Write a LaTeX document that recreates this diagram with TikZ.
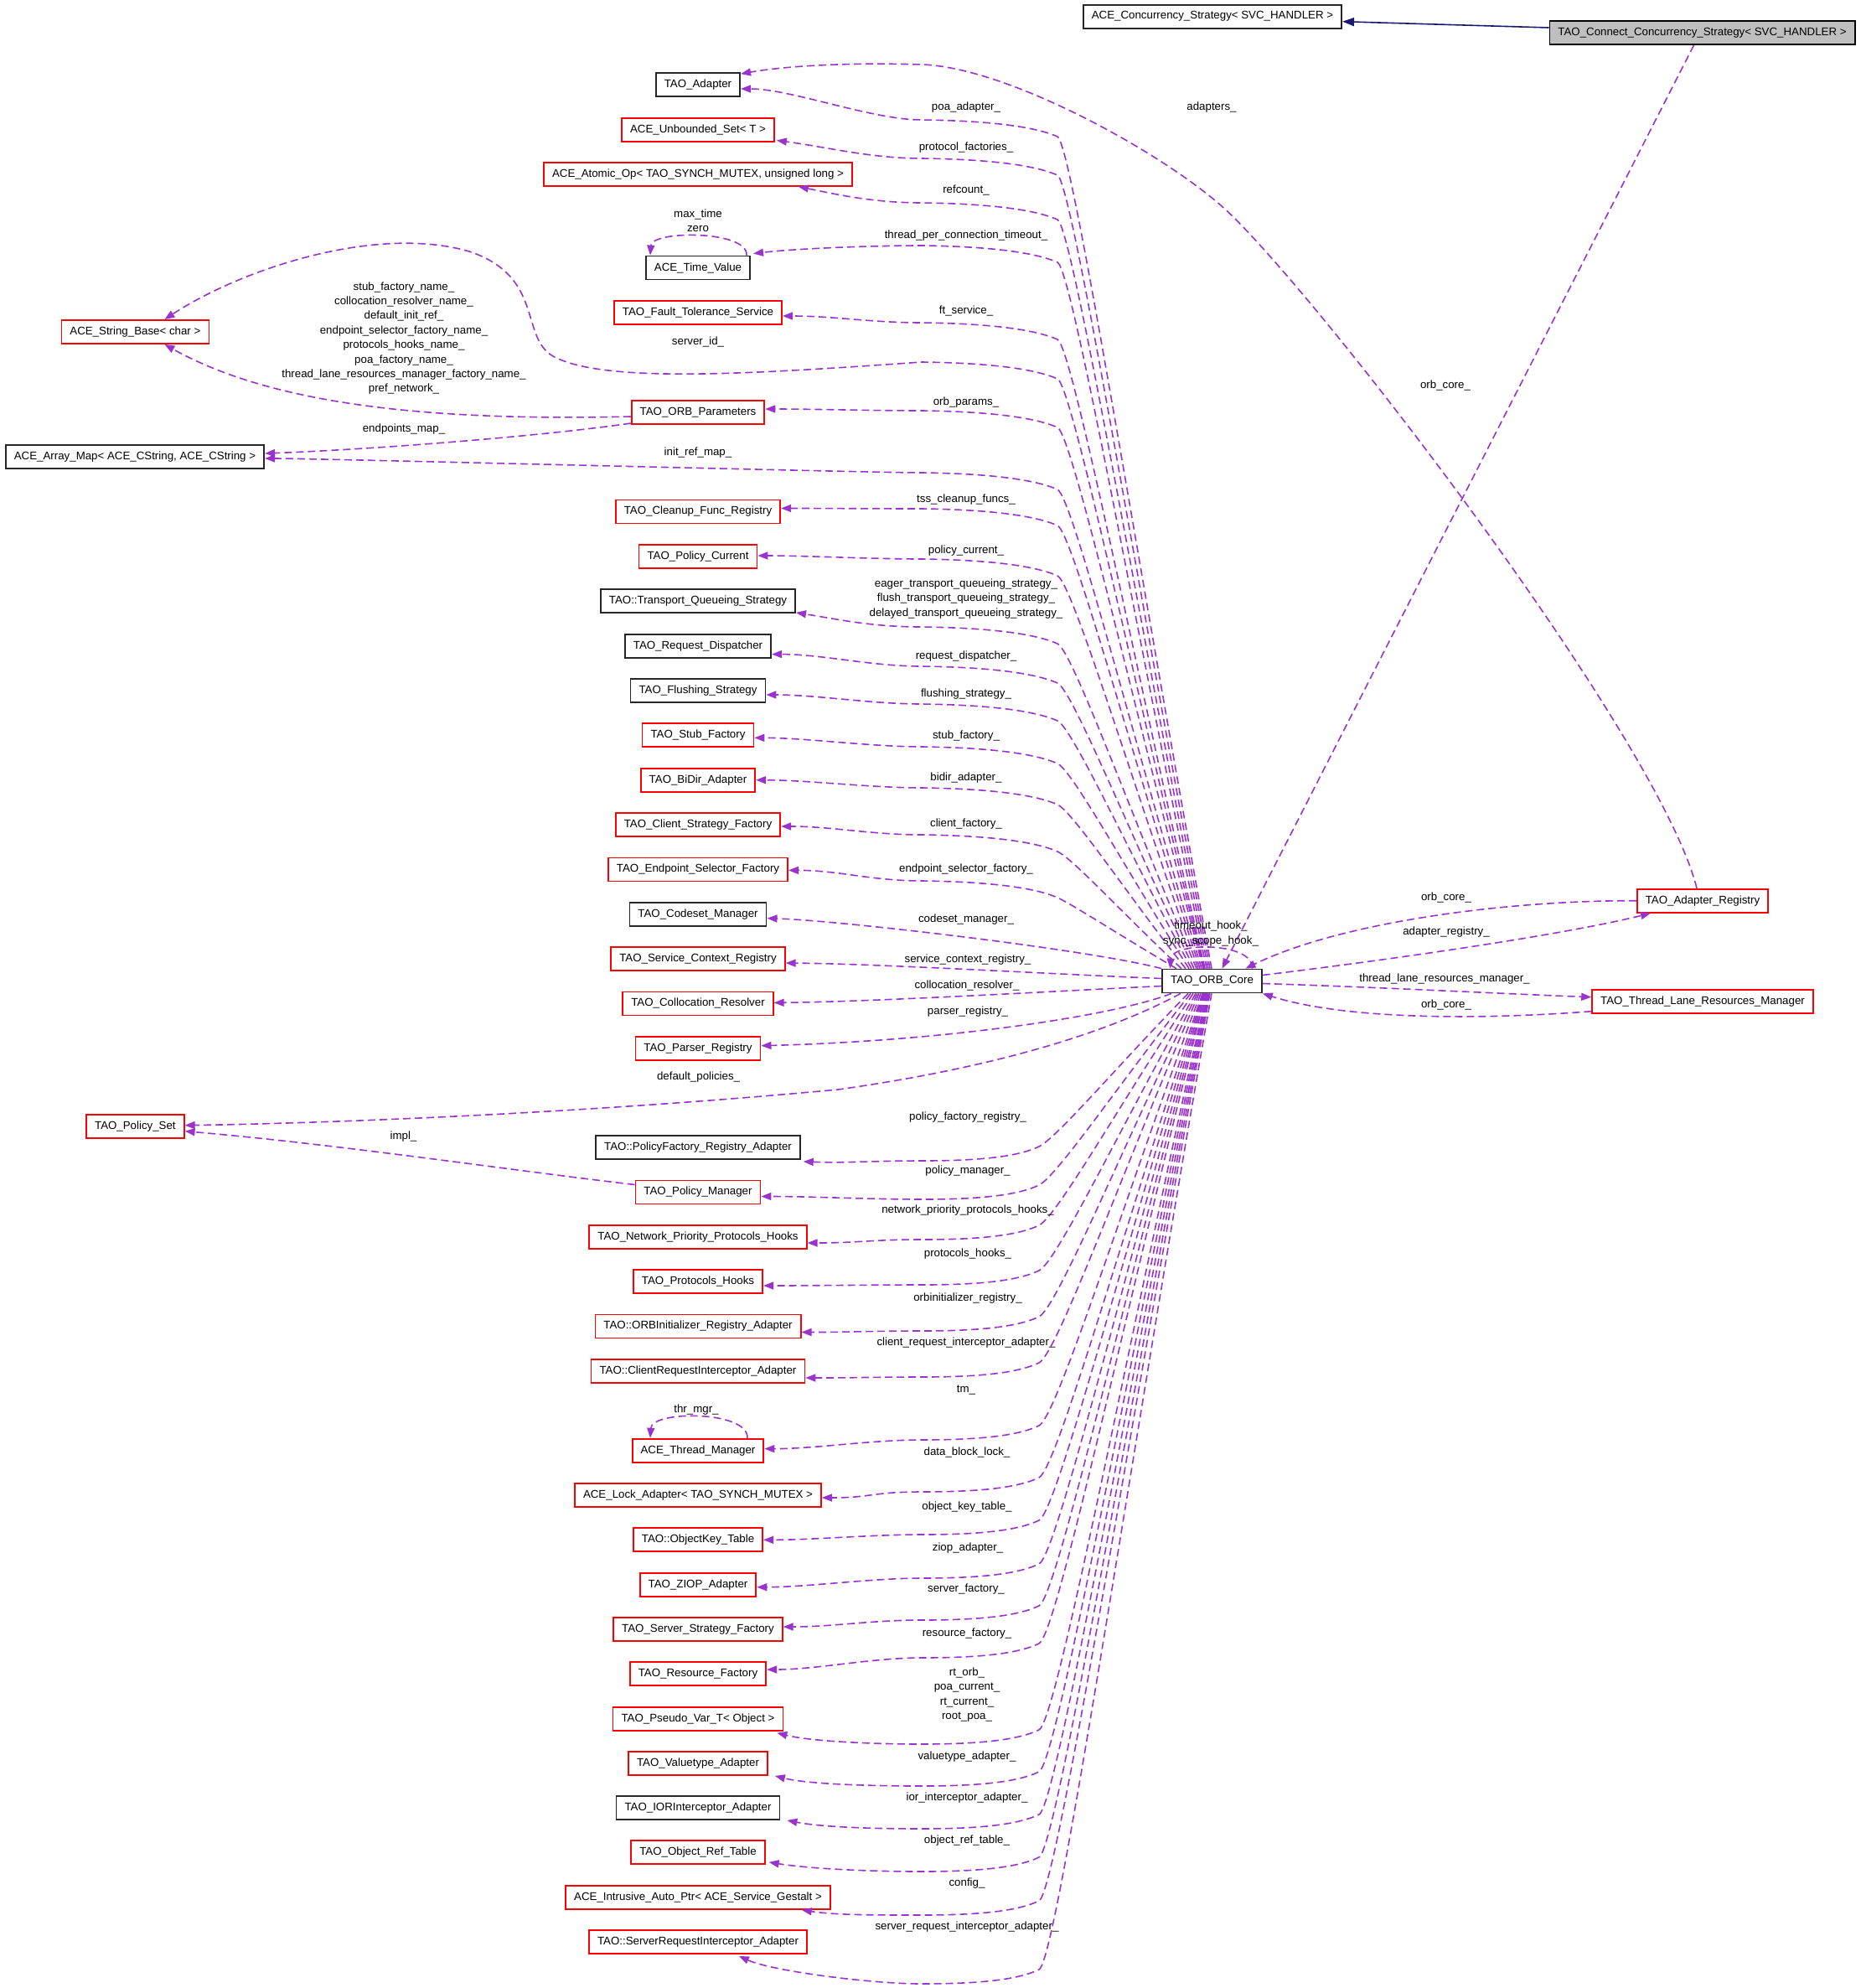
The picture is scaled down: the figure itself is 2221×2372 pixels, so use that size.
\documentclass[tikz,border=0pt]{standalone}
\usepackage{fontspec}
\setmainfont{Liberation Sans}
\usetikzlibrary{arrows.meta}
\definecolor{depc}{HTML}{9A32CD}
\definecolor{navyc}{HTML}{191970}
\definecolor{grayc}{HTML}{BFBFBF}
\newcommand\fs{\fontsize{6.65pt}{8.7pt}\selectfont}
\tikzset{
  cbox/.style={draw, line width=0.9pt, inner xsep=5pt, inner ysep=0pt, minimum height=14pt, font=\fs, fill=white},
  rbox/.style={cbox, draw=red},
  kbox/.style={cbox, draw=black!85},
  lbl/.style={font=\fs, inner sep=0pt, align=center},
  dep/.style={draw=depc, line width=0.8pt, dash pattern=on 4.5pt off 2.5pt, -{Triangle[length=6pt,width=4.5pt]}},
  inh/.style={draw=navyc, line width=0.8pt, -{Triangle[length=7pt,width=5pt]}},
}
% upper edge: #1 node, #2 anchor, #3 sx, #4 sy, #5 cdx, #6 cdy, #7 my, #8 cx
\newcommand\upedge[8]{%
  \pgfmathsetmacro\eBy{#7+20}%
  \pgfmathsetmacro\eCx{#8+0.45*(1262-#8)}%
  \pgfmathsetmacro\eCy{1157+0.45*(\eBy-1157)}%
  \draw[dep] (core.north-|#8,0) .. controls (\eCx,\eCy) and (1280,{#7+28}) .. (1262,\eBy) .. controls (1235,{#7+8}) and (1180,{#7+1}) .. (1100,#7) .. controls (1040,#7) and ([shift={({#3+#5},{#4+#6})}]#1.#2) .. ([shift={(#3,#4)}]#1.#2);}
\newcommand\lowedge[8]{%
  \pgfmathsetmacro\eBy{#7-17}%
  \pgfmathsetmacro\eCx{#8+0.45*(1240-#8)}%
  \pgfmathsetmacro\eCy{1184+0.45*(\eBy-1184)}%
  \draw[dep] (core.south-|#8,0) .. controls (\eCx,\eCy) and (1262,{#7-28}) .. (1240,\eBy) .. controls (1215,{#7-5}) and (1170,#7) .. (1100,#7) .. controls (1040,#7) and ([shift={({#3+#5},{#4+#6})}]#1.#2) .. ([shift={(#3,#4)}]#1.#2);}
\begin{document}
\begin{tikzpicture}[x=0.5pt,y=-0.5pt]
\useasboundingbox (0,0) rectangle (2221,2372);
% top and right nodes
\node[kbox] (ccs) at (1447,19.7) {ACE\_Concurrency\_Strategy< SVC\_HANDLER >};
\node[cbox, fill=grayc] (tccs) at (2031.5,39) {TAO\_Connect\_Concurrency\_Strategy< SVC\_HANDLER >};
\node[kbox] (core) at (1446.5,1170.5) {TAO\_ORB\_Core};
\node[rbox] (ar) at (2032,1074.7) {TAO\_Adapter\_Registry};
\node[rbox] (tl) at (2032,1194.7) {TAO\_Thread\_Lane\_Resources\_Manager};
% left nodes
\node[rbox] (sb) at (161.4,396) {ACE\_String\_Base< char >};
\node[kbox] (am) at (161,545) {ACE\_Array\_Map< ACE\_CString, ACE\_CString >};
\node[rbox] (ps) at (161.4,1343.7) {TAO\_Policy\_Set};
\node[kbox] (ad) at (833,101) {TAO\_Adapter};
\node[rbox] (us) at (833,154.6) {ACE\_Unbounded\_Set< T >};
\node[rbox] (ao) at (833,207.8) {ACE\_Atomic\_Op< TAO\_SYNCH\_MUTEX, unsigned long >};
\node[kbox] (tv) at (833,319.5) {ACE\_Time\_Value};
\node[rbox] (ft) at (833,373) {TAO\_Fault\_Tolerance\_Service};
\node[rbox] (op) at (833,492) {TAO\_ORB\_Parameters};
\node[rbox] (cf) at (833,610.5) {TAO\_Cleanup\_Func\_Registry};
\node[rbox] (pc) at (833,664) {TAO\_Policy\_Current};
\node[kbox] (tq) at (833,717) {TAO::Transport\_Queueing\_Strategy};
\node[kbox] (rd) at (833,770.6) {TAO\_Request\_Dispatcher};
\node[kbox] (fs) at (833,824) {TAO\_Flushing\_Strategy};
\node[rbox] (sf) at (833,877.3) {TAO\_Stub\_Factory};
\node[rbox] (bd) at (833,930.7) {TAO\_BiDir\_Adapter};
\node[rbox] (cs) at (833,984) {TAO\_Client\_Strategy\_Factory};
\node[rbox] (es) at (833,1037.4) {TAO\_Endpoint\_Selector\_Factory};
\node[kbox] (cm) at (833,1090.7) {TAO\_Codeset\_Manager};
\node[rbox] (sc) at (833,1144) {TAO\_Service\_Context\_Registry};
\node[rbox] (cr) at (833,1197.4) {TAO\_Collocation\_Resolver};
\node[rbox] (pr) at (833,1250.7) {TAO\_Parser\_Registry};
\node[kbox] (pf) at (833,1369) {TAO::PolicyFactory\_Registry\_Adapter};
\node[rbox] (pm) at (833,1422.5) {TAO\_Policy\_Manager};
\node[rbox] (np) at (833,1476) {TAO\_Network\_Priority\_Protocols\_Hooks};
\node[rbox] (ph) at (833,1529) {TAO\_Protocols\_Hooks};
\node[rbox] (oi) at (833,1582.5) {TAO::ORBInitializer\_Registry\_Adapter};
\node[rbox] (ci) at (833,1636) {TAO::ClientRequestInterceptor\_Adapter};
\node[rbox] (tm) at (833,1730.6) {ACE\_Thread\_Manager};
\node[rbox] (la) at (833,1784) {ACE\_Lock\_Adapter< TAO\_SYNCH\_MUTEX >};
\node[rbox] (ok) at (833,1837.3) {TAO::ObjectKey\_Table};
\node[rbox] (zi) at (833,1890.7) {TAO\_ZIOP\_Adapter};
\node[rbox] (ss) at (833,1944) {TAO\_Server\_Strategy\_Factory};
\node[rbox] (rf) at (833,1997) {TAO\_Resource\_Factory};
\node[rbox] (pv) at (833,2050.7) {TAO\_Pseudo\_Var\_T< Object >};
\node[rbox] (va) at (833,2104) {TAO\_Valuetype\_Adapter};
\node[kbox] (io) at (833,2157) {TAO\_IORInterceptor\_Adapter};
\node[rbox] (ort) at (833,2210) {TAO\_Object\_Ref\_Table};
\node[rbox] (ia) at (833,2264) {ACE\_Intrusive\_Auto\_Ptr< ACE\_Service\_Gestalt >};
\node[rbox] (si) at (833,2317) {TAO::ServerRequestInterceptor\_Adapter};
% right side edges
\draw[inh] ([shift={(0,-6)}]tccs.west) -- ([shift={(0,6)}]ccs.east);
\draw[dep] ([shift={(-10,0)}]tccs.south) -- ([shift={(12,0)}]core.north);
\draw[dep] ([shift={(-7,0)}]ar.north) .. controls (1980,880) and (1560,335) .. (1457,245) .. controls (1380,178) and (1200,80) .. (1100,77) .. controls (1000,74) and (930,80) .. ([shift={(0,2)}]ad.north east);
\draw[dep] (ar.west) .. controls (1800,1074) and (1600,1100) .. ([shift={(40,0)}]core.north);
\draw[dep] ([shift={(0,-7)}]core.east) .. controls (1700,1140) and (1880,1112) .. ([shift={(-62,0)}]ar.south);
\draw[dep] ([shift={(0,3)}]core.east) .. controls (1650,1178) and (1800,1186) .. ([shift={(0,-5)}]tl.west);
\draw[dep] ([shift={(0,12)}]tl.west) .. controls (1750,1218) and (1600,1215) .. (core.south east);
% self loops
\draw[dep] ([shift={(48,0)}]core.north) .. controls ([shift={(50,-32)}]core.north) and ([shift={(-48,-32)}]core.north) .. ([shift={(-50,0)}]core.north);
\draw[dep] ([shift={(58,0)}]tv.north) .. controls ([shift={(60,-30)}]tv.north) and ([shift={(-55,-30)}]tv.north) .. ([shift={(-57,0)}]tv.north);
\draw[dep] ([shift={(59,0)}]tm.north) .. controls ([shift={(60,-33)}]tm.north) and ([shift={(-55,-33)}]tm.north) .. ([shift={(-57,0)}]tm.north);
% upper edges
\upedge{ad}{east}{0}{5}{60}{0}{143}{1446}
\upedge{us}{south east}{2}{-2}{60}{8}{189}{1444}
\upedge{ao}{south east}{-65}{0}{40}{8}{242}{1442}
\upedge{tv}{north east}{3}{-2}{50}{-6}{293}{1440}
\upedge{ft}{east}{0}{4}{60}{0}{385}{1438}
\upedge{op}{east}{0}{-4}{60}{0}{490}{1436}
\upedge{am}{east}{0}{2}{60}{0}{564}{1434}
\upedge{cf}{east}{0}{-4}{60}{0}{607}{1432}
\upedge{pc}{east}{0}{-1}{60}{0}{667}{1430}
\upedge{tq}{south east}{0}{-1}{50}{8}{748}{1428}
\upedge{rd}{east}{0}{10}{60}{0}{795}{1425}
\upedge{fs}{east}{0}{5}{60}{0}{840}{1422}
\upedge{sf}{east}{0}{3}{60}{0}{891}{1419}
\upedge{bd}{east}{0}{0}{60}{0}{940}{1415}
\upedge{cs}{east}{0}{2}{60}{0}{996}{1410}
\upedge{es}{east}{0}{1}{60}{0}{1051}{1404}
% server_id_
\draw[dep] (core.north-|1437,0) .. controls (1358,840) and (1280,460) .. (1262,452) .. controls (1235,440) and (1180,433) .. (1100,432) .. controls (900,446) and (720,458) .. (660,425) .. controls (620,402) and (650,330) .. (560,300) .. controls (450,268) and (290,320) .. ([shift={(35,0)}]sb.north);
% ORB_Parameters edges
\draw[dep] ([shift={(0,5)}]op.west) .. controls (500,503) and (320,480) .. ([shift={(35,0)}]sb.south);
\draw[dep] ([shift={(0,13)}]op.west) .. controls (650,520) and (450,536) .. ([shift={(0,-4)}]am.east);
% middle edges
\draw[dep] (core.north west) .. controls (1300,1133) and (1000,1098) .. ([shift={(0,5)}]cm.east);
\draw[dep] ([shift={(0,-3)}]core.west) .. controls (1250,1162) and (1050,1150) .. ([shift={(0,5)}]sc.east);
\draw[dep] ([shift={(0,6)}]core.west) .. controls (1250,1183) and (1050,1195) .. ([shift={(0,-1)}]cr.east);
\draw[dep] (core.south-|1398,0) .. controls (1330,1212) and (1130,1242) .. ([shift={(0,-3)}]pr.east);
\draw[dep] (core.south-|1409,0) .. controls (1330,1228) and (1200,1272) .. (1000,1300) .. controls (700,1328) and (400,1340) .. ([shift={(0,-1)}]ps.east);
\draw[dep] ([shift={(0,-9)}]pm.west) .. controls (600,1395) and (400,1365) .. ([shift={(0,6)}]ps.east);
% lower edges
\lowedge{pf}{south east}{3}{2}{50}{2}{1385}{1418}
\lowedge{pm}{east}{0}{5}{60}{0}{1431}{1421}
\lowedge{np}{east}{0}{7}{60}{0}{1479}{1424}
\lowedge{ph}{east}{0}{5}{60}{0}{1533}{1427}
\lowedge{oi}{east}{0}{7}{60}{0}{1588}{1429}
\lowedge{ci}{east}{0}{8}{60}{0}{1643}{1431}
\lowedge{tm}{east}{0}{-2}{60}{0}{1718}{1433}
\lowedge{la}{east}{0}{3}{60}{0}{1780}{1435}
\lowedge{ok}{east}{0}{0}{60}{0}{1831}{1436}
\lowedge{zi}{east}{0}{3}{60}{0}{1883}{1437}
\lowedge{ss}{east}{0}{-3}{60}{0}{1933}{1438}
\lowedge{rf}{east}{0}{-5}{60}{0}{1978}{1439}
\lowedge{pv}{south east}{-8}{2}{40}{10}{2081}{1440}
\lowedge{va}{south east}{8}{0}{40}{10}{2131}{1441}
\lowedge{io}{south east}{8}{0}{40}{8}{2182}{1442}
\lowedge{ort}{south east}{4}{-3}{50}{8}{2233}{1443}
\lowedge{ia}{south east}{-35}{0}{40}{6}{2285}{1444}
\lowedge{si}{south east}{-82}{2}{40}{18}{2367}{1446}
% labels
\node[lbl] (l01) at (1153,128) {poa\_adapter\_};
\node[lbl] (l02) at (1153,176) {protocol\_factories\_};
\node[lbl] (l03) at (1153,227) {refcount\_};
\node[lbl] (l04) at (1153,281) {thread\_per\_connection\_timeout\_};
\node[lbl] (l05) at (833,263.5) {max\_time\\zero};
\node[lbl] (l06) at (1153,371) {ft\_service\_};
\node[lbl] (l07) at (833,408) {server\_id\_};
\node[lbl] (l08) at (482,403.5) {stub\_factory\_name\_\\collocation\_resolver\_name\_\\default\_init\_ref\_\\endpoint\_selector\_factory\_name\_\\protocols\_hooks\_name\_\\poa\_factory\_name\_\\thread\_lane\_resources\_manager\_factory\_name\_\\pref\_network\_};
\node[lbl] (l09) at (482,512) {endpoints\_map\_};
\node[lbl] (l10) at (1153,480) {orb\_params\_};
\node[lbl] (l11) at (833,540) {init\_ref\_map\_};
\node[lbl] (l12) at (1153,596) {tss\_cleanup\_funcs\_};
\node[lbl] (l13) at (1153,657) {policy\_current\_};
\node[lbl] (l14) at (1153,714.5) {eager\_transport\_queueing\_strategy\_\\flush\_transport\_queueing\_strategy\_\\delayed\_transport\_queueing\_strategy\_};
\node[lbl] (l15) at (1153,782.7) {request\_dispatcher\_};
\node[lbl] (l16) at (1153,827.7) {flushing\_strategy\_};
\node[lbl] (l17) at (1153,878.3) {stub\_factory\_};
\node[lbl] (l18) at (1153,927.7) {bidir\_adapter\_};
\node[lbl] (l19) at (1153,983.3) {client\_factory\_};
\node[lbl] (l20) at (1153,1036.7) {endpoint\_selector\_factory\_};
\node[lbl] (l21) at (1153,1097) {codeset\_manager\_};
\node[lbl] (l22) at (1155,1144.7) {service\_context\_registry\_};
\node[lbl] (l23) at (1154,1176) {collocation\_resolver\_};
\node[lbl] (l24) at (1155,1207) {parser\_registry\_};
\node[lbl] (l25) at (833.6,1285) {default\_policies\_};
\node[lbl] (l26) at (1155,1333) {policy\_factory\_registry\_};
\node[lbl] (l27) at (1155,1397) {policy\_manager\_};
\node[lbl] (l28) at (1155,1444) {network\_priority\_protocols\_hooks\_};
\node[lbl] (l29) at (1155,1496) {protocols\_hooks\_};
\node[lbl] (l30) at (1155,1549) {orbinitializer\_registry\_};
\node[lbl] (l31) at (1153,1602) {client\_request\_interceptor\_adapter\_};
\node[lbl] (l32) at (1153,1658) {tm\_};
\node[lbl] (l33) at (831,1682) {thr\_mgr\_};
\node[lbl] (l34) at (1154,1733) {data\_block\_lock\_};
\node[lbl] (l35) at (1154,1798) {object\_key\_table\_};
\node[lbl] (l36) at (1155,1847) {ziop\_adapter\_};
\node[lbl] (l37) at (1153,1896) {server\_factory\_};
\node[lbl] (l38) at (1154,1949) {resource\_factory\_};
\node[lbl] (l39) at (1154,2022) {rt\_orb\_\\poa\_current\_\\rt\_current\_\\root\_poa\_};
\node[lbl] (l40) at (1154,2096) {valuetype\_adapter\_};
\node[lbl] (l41) at (1154,2145) {ior\_interceptor\_adapter\_};
\node[lbl] (l42) at (1154,2196) {object\_ref\_table\_};
\node[lbl] (l43) at (1154,2247) {config\_};
\node[lbl] (l44) at (1154,2299) {server\_request\_interceptor\_adapter\_};
\node[lbl] (l45) at (481.5,1356) {impl\_};
\node[lbl] (l46) at (1446,128) {adapters\_};
\node[lbl] (l47) at (1725,460) {orb\_core\_};
\node[lbl] (l48) at (1726,1071) {orb\_core\_};
\node[lbl] (l49) at (1726,1112) {adapter\_registry\_};
\node[lbl] (l50) at (1724,1168) {thread\_lane\_resources\_manager\_};
\node[lbl] (l51) at (1726,1199) {orb\_core\_};
\node[lbl] (l52) at (1445,1114) {timeout\_hook\_\\sync\_scope\_hook\_};
\end{tikzpicture}
\end{document}
